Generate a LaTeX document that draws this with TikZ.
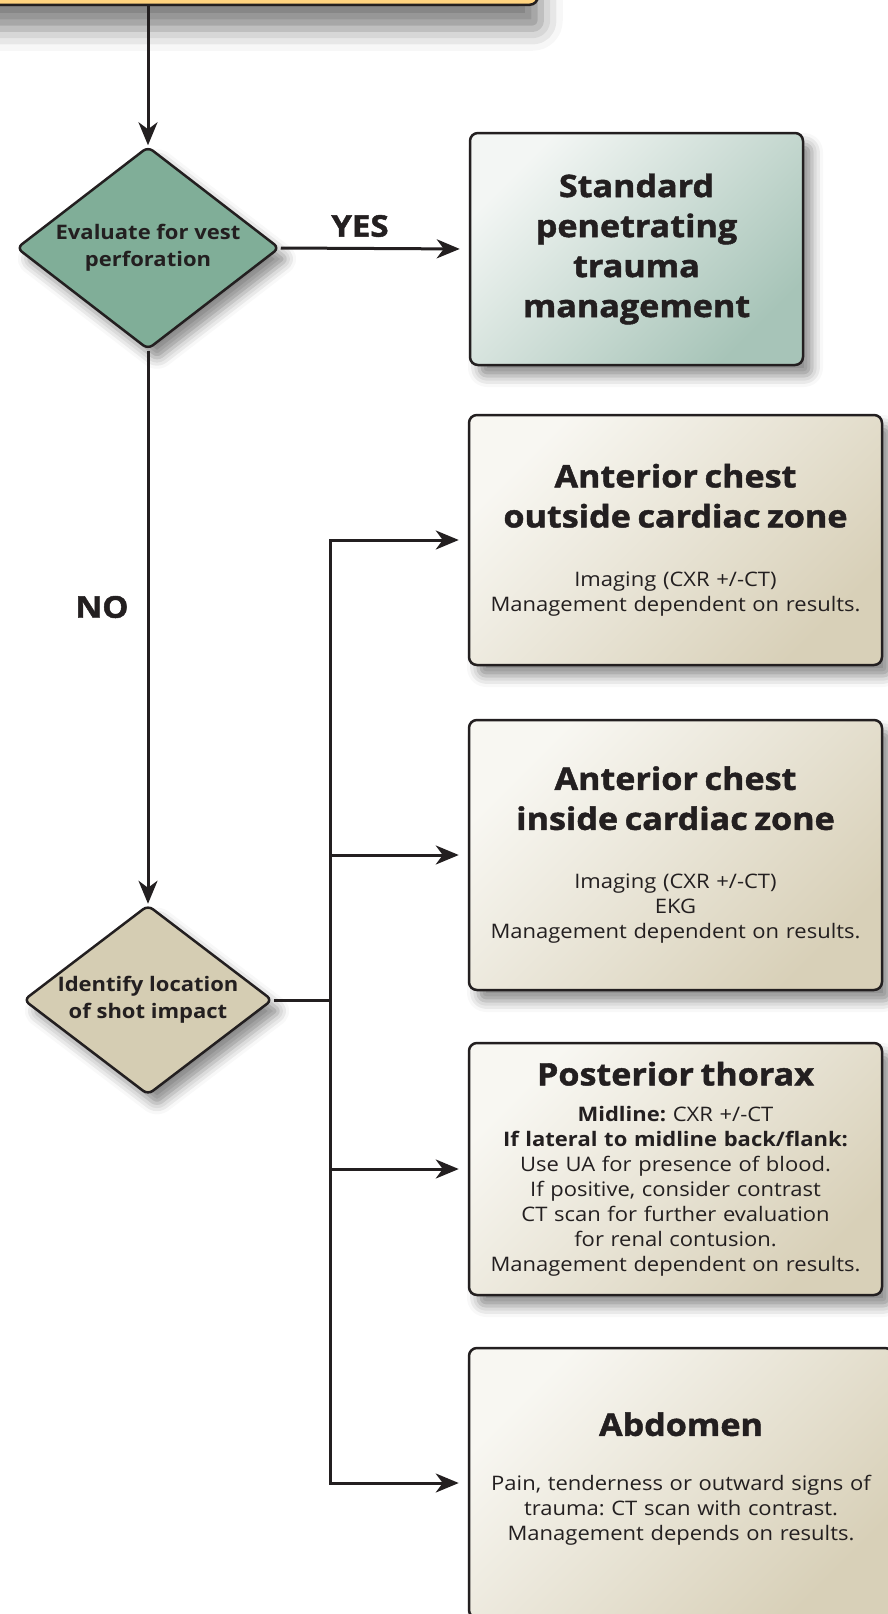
\documentclass[tikz,border=0pt]{standalone}
\usepackage{fontspec}
\setmainfont{Open Sans}[FakeStretch=1.1]
\newfontfamily\headfont{Open Sans}[FakeStretch=1.1, BoldFeatures={FakeBold=1.5}]
\usepackage{tikz}
\usetikzlibrary{arrows.meta,shapes.geometric,shadows.blur}

\definecolor{inkline}{HTML}{231F20}
\definecolor{startyellow}{HTML}{FFD37F}
\definecolor{vestgreen}{HTML}{80AE98}
\definecolor{impacttan}{HTML}{D5CDB3}
\definecolor{teallight}{HTML}{F3F6F4}
\definecolor{tealdark}{HTML}{A7C4B8}
\definecolor{tanlight}{HTML}{F8F7F2}
\definecolor{tandark}{HTML}{D8D0B8}

\newcommand\boxhead[1]{{\headfont\bfseries\fontsize{31}{40}\selectfont #1\par}}

\tikzset{
  flowline/.style={line width=3pt, draw=inkline},
  flowarrow/.style={flowline, -{Stealth[length=23pt, width=19pt, inset=7pt]}},
  softshadow/.style={blur shadow={shadow xshift=9pt, shadow yshift=-11pt, shadow blur radius=11pt, shadow opacity=45}},
  decision/.style={diamond, aspect=1.3, draw=inkline, line width=2.5pt, rounded corners=6pt, inner sep=0pt,
    align=center, text=inkline, font=\bfseries\fontsize{20}{27}\selectfont, softshadow},
  result/.style={rectangle, draw=inkline, line width=2.5pt, rounded corners=8pt, softshadow,
    top color=tanlight, bottom color=tandark, shading angle=45,
    text width=405pt, align=center, text=inkline, font=\frenchspacing\fontsize{20}{25}\selectfont},
  flowlabel/.style={text=inkline, font=\headfont\bfseries\fontsize{30}{34}\selectfont},
}

\begin{document}
\begin{tikzpicture}[x=1pt,y=-1pt]
    \useasboundingbox (0,0) rectangle (888,1614);
    \clip (0,0) rectangle (888,1614);

    % box cut off at the top of the page
    \node[draw=inkline, line width=2.5pt, rounded corners=8pt, fill=startyellow,
      blur shadow={shadow xshift=3pt, shadow yshift=-24pt, shadow blur radius=22pt, shadow opacity=50},
      minimum width=620pt, minimum height=120pt, anchor=south east] (start) at (539,6) {};

    \node[decision, fill=vestgreen, minimum width=263pt, minimum height=203pt] (vest) at (148,248) {Evaluate for vest\\perforation};
    \node[decision, fill=impacttan, minimum width=249pt, minimum height=190pt] (impact) at (148,1000) {Identify location\\of shot impact};

    \node[result, top color=teallight, bottom color=tealdark, shading angle=45,
      text width=320pt, minimum width=333pt, minimum height=232pt] (standard) at (636.5,249)
      {\boxhead{Standard\\penetrating\\trauma\\management}};

    \node[result, minimum width=413pt, minimum height=250pt] (outside) at (675.5,540)
      {\boxhead{Anterior chest\\outside cardiac zone}\vspace{34pt}
       Imaging (CXR +/-CT)\\Management dependent on results.};
    \node[result, minimum width=413pt, minimum height=270pt] (inside) at (675.5,855)
      {\boxhead{Anterior chest\\inside cardiac zone}\vspace{34pt}
       Imaging (CXR +/-CT)\\EKG\\Management dependent on results.};
    \node[result, minimum width=413pt, minimum height=252pt] (posterior) at (675.5,1169)
      {\boxhead{Posterior thorax}\vspace{11pt}
       \textbf{Midline:} CXR +/-CT\\\textbf{If lateral to midline back/flank:}\\
       Use UA for presence of blood.\\If positive, consider contrast\\CT scan for further evaluation\\
       for renal contusion.\\Management dependent on results.};
    \node[result, minimum width=424pt, minimum height=270pt] (abdomen) at (681,1483)
      {\boxhead{Abdomen}\vspace{30pt}
       Pain, tenderness or outward signs of\\trauma: CT scan with contrast.\\Management depends on results.\vspace{8pt}};

    \node[flowlabel] (yes) at (360,226) {YES};
    \node[flowlabel] (no) at (102,607) {NO};

    \coordinate (bus) at (330,1000);

    \draw[flowarrow] (start.south -| vest.north) -- (vest.north);
    \draw[flowarrow, shorten >=9pt] (vest.east) -- (standard.west);
    \draw[flowarrow] (vest.south) -- (impact.north);
    \draw[flowline] (impact.east) -- (bus);
    \draw[flowarrow, shorten >=9pt] (bus) |- (outside.west);
    \draw[flowarrow, shorten >=9pt] (bus) |- (abdomen.west);
    \draw[flowarrow, shorten >=9pt] (bus |- inside.west) -- (inside.west);
    \draw[flowarrow, shorten >=9pt] (bus |- posterior.west) -- (posterior.west);

\end{tikzpicture}
\end{document}
